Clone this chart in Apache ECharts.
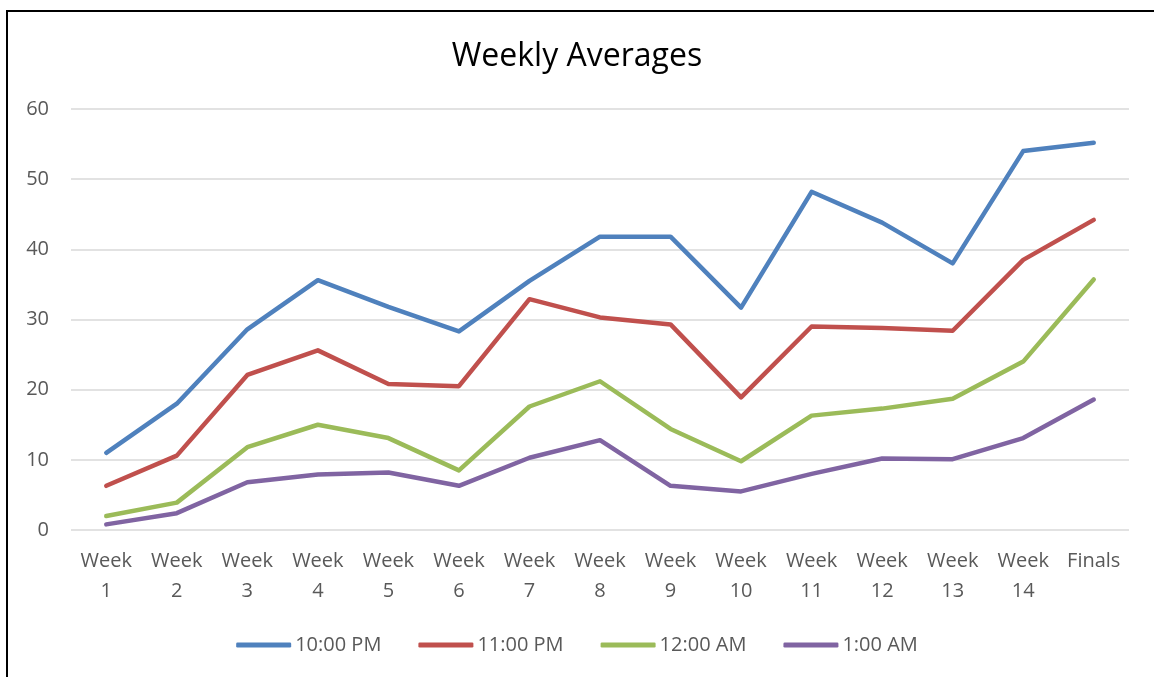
<!DOCTYPE html>
<html lang="en">
<head>
<meta charset="UTF-8">
<script src="https://cdn.jsdelivr.net/npm/echarts@6/dist/echarts.min.js"></script>
<title>Weekly Averages</title>
<style>
  body { margin: 0; padding: 0; background: #fff; overflow: hidden; }
  #chart { width: 1154px; height: 677px; }
  /* black frame, only top and left edges show in the picture */
  .frame {
    position: absolute;
    left: 6px;
    top: 10px;
    width: 1160px;
    height: 700px;
    border-left: 2px solid #000;
    border-top: 2px solid #000;
    pointer-events: none;
  }
</style>
</head>
<body>
<div id="chart"></div>
<div class="frame"></div>
<script>
  const categories = ['Week\n1', 'Week\n2', 'Week\n3', 'Week\n4', 'Week\n5', 'Week\n6', 'Week\n7',
    'Week\n8', 'Week\n9', 'Week\n10', 'Week\n11', 'Week\n12', 'Week\n13', 'Week\n14', 'Finals'];

  const pm10 = [11.0, 18.0, 28.6, 35.6, 31.8, 28.3, 35.5, 41.8, 41.8, 31.7, 48.2, 43.8, 38.0, 54.0, 55.2];
  const pm11 = [6.3, 10.6, 22.1, 25.6, 20.8, 20.5, 32.9, 30.3, 29.3, 18.9, 29.0, 28.8, 28.4, 38.5, 44.2];
  const am12 = [2.0, 3.9, 11.8, 15.0, 13.1, 8.5, 17.6, 21.2, 14.4, 9.8, 16.3, 17.3, 18.7, 24.0, 35.7];
  const am1 = [0.8, 2.4, 6.8, 7.9, 8.2, 6.3, 10.3, 12.8, 6.3, 5.5, 8.0, 10.2, 10.1, 13.1, 18.6];

  const seriesNames = ['10:00 PM', '11:00 PM', '12:00 AM', '1:00 AM'];
  const colors = ['#4F81BD', '#C0504D', '#9BBB59', '#8064A2'];

  const font = '"Open Sans", "Liberation Sans", sans-serif';

  var chart = echarts.init(document.getElementById('chart'));

  function makeSeries(name, data, color) {
    return {
      name: name,
      type: 'line',
      data: data,
      showSymbol: false,
      symbol: 'none',
      color: color,
      lineStyle: { width: 4.5, color: color, cap: 'round', join: 'round' },
      emphasis: { disabled: true }
    };
  }

  const option = {
    animation: false,
    title: {
      text: 'Weekly Averages',
      left: 'center',
      top: 36,
      textStyle: { fontFamily: font, fontSize: 32, fontWeight: 'normal', color: '#000' }
    },
    legend: {
      bottom: 17,
      left: 'center',
      icon: 'roundRect',
      itemWidth: 55,
      itemHeight: 5,
      itemGap: 37,
      textStyle: { fontFamily: font, fontSize: 20, color: '#595959', padding: [0, 0, 0, -1] },
      data: seriesNames
    },
    grid: { left: 71, right: 25, top: 109, bottom: 147 },
    xAxis: {
      type: 'category',
      data: categories,
      boundaryGap: true,
      axisLine: { show: false },
      axisTick: { show: false },
      axisLabel: {
        fontFamily: font, fontSize: 20, color: '#595959',
        lineHeight: 30, margin: 16, interval: 0
      }
    },
    yAxis: {
      type: 'value',
      min: 0,
      max: 60,
      interval: 10,
      axisLine: { show: false },
      axisTick: { show: false },
      splitLine: { lineStyle: { color: '#d9d9d9', width: 1.5 } },
      axisLabel: { fontFamily: font, fontSize: 20, color: '#595959', margin: 22 }
    },
    series: [
      makeSeries(seriesNames[0], pm10, colors[0]),
      makeSeries(seriesNames[1], pm11, colors[1]),
      makeSeries(seriesNames[2], am12, colors[2]),
      makeSeries(seriesNames[3], am1, colors[3])
    ]
  };

  chart.setOption(option);
</script>
</body>
</html>
